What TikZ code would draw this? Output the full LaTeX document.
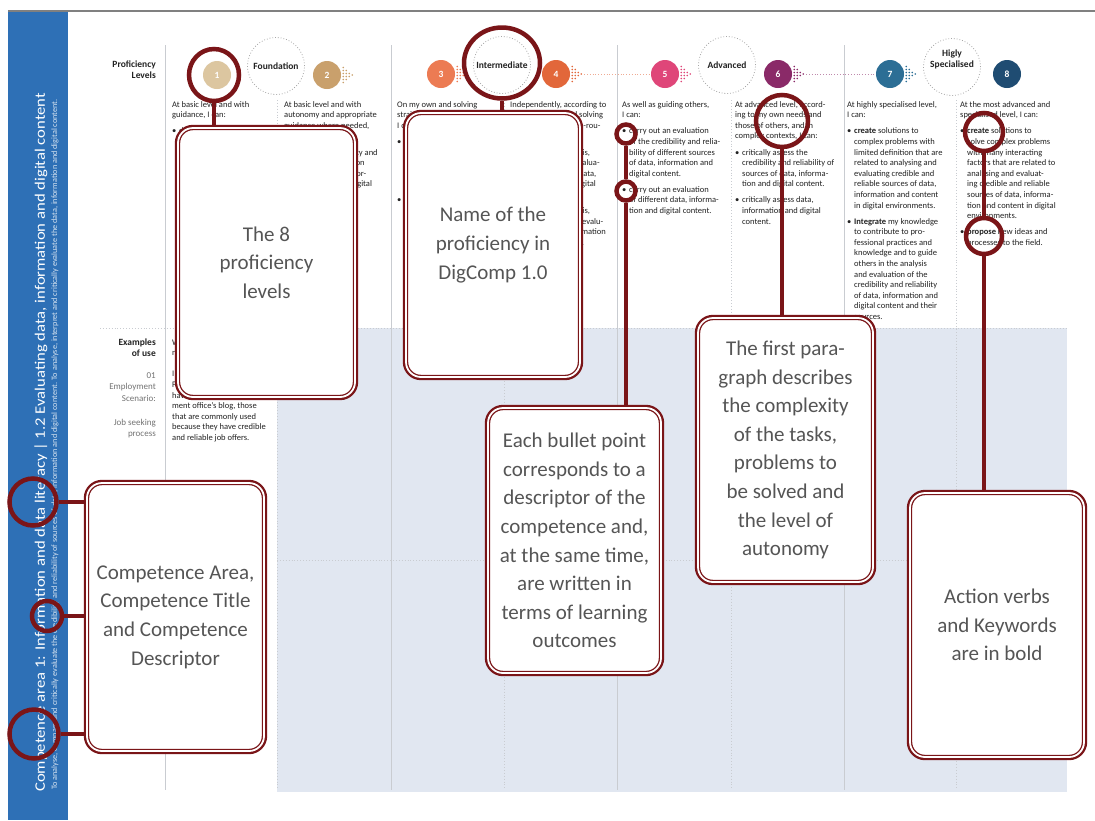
\documentclass[tikz,border=0pt]{standalone}
\usepackage{fontspec}
\setmainfont{Carlito}
\usetikzlibrary{shapes.geometric,calc}
\definecolor{callred}{HTML}{7A1518}
\definecolor{bandblue}{HTML}{2E70B6}
\definecolor{shadeblue}{HTML}{E1E7F1}
\definecolor{rulegray}{HTML}{C9CCD1}
\definecolor{inkdark}{HTML}{222222}
\definecolor{boxgray}{HTML}{555555}
\definecolor{lvA}{HTML}{DCC6A0}
\definecolor{lvB}{HTML}{C9A06C}
\definecolor{lvC}{HTML}{EC7B53}
\definecolor{lvD}{HTML}{E2673A}
\definecolor{lvE}{HTML}{DF4679}
\definecolor{lvF}{HTML}{8A2A68}
\definecolor{lvG}{HTML}{2C6E95}
\definecolor{lvH}{HTML}{1F4C72}
\newcommand{\bul}{\makebox[7pt][l]{\textbullet}}
\newcommand{\ind}{\hspace*{7pt}}
\newcommand{\lvlarrow}[2]{%
  \foreach \dx/\dy in {2/-7.5,2/-4.5,2/-1.5,2/1.5,2/4.5,2/7.5,5/-4.5,5/-1.5,5/1.5,5/4.5,8/-1.5,8/1.5,11/0}
    \fill[#2] ($(#1.east)+(\dx,\dy)$) circle (0.85pt);}
\tikzset{
  coltext/.style={anchor=north west, align=left, inner sep=0pt, text=inkdark, font=\fontsize{8.5}{10.6}\selectfont},
  sidelabel/.style={anchor=north east, align=right, inner sep=0pt, text=inkdark, font=\bfseries\fontsize{9.5}{11}\selectfont},
  sidenote/.style={anchor=north east, align=right, inner sep=0pt, text=black!55, font=\fontsize{9}{11.5}\selectfont},
  lvlnum/.style={circle, minimum size=28pt, inner sep=0pt, text=white, font=\bfseries\fontsize{9.5}{10}\selectfont},
  lvlname/.style={circle, draw=black!35, dotted, line width=0.8pt, minimum size=57pt, inner sep=0pt, align=center, text=inkdark, font=\bfseries\fontsize{9.5}{11}\selectfont},
  lvldots/.style={draw=#1!55, line width=0.8pt, dotted},
  ring/.style={circle, draw=callred, line width=4.5pt, inner sep=0pt},
  oval/.style={ellipse, draw=callred, line width=4.5pt, inner sep=0pt},
  link/.style={draw=callred, line width=4pt},
  callout/.style={rectangle, rounded corners=15pt, preaction={draw=callred, line width=6.4pt}, fill=white, draw=callred, line width=1.3pt, double=white, double distance=1.8pt, inner sep=0pt, align=center, text=boxgray, font=\fontsize{21}{28.6}\selectfont},
  solidrule/.style={draw=rulegray, line width=0.9pt},
  dotrule/.style={draw=rulegray, line width=0.9pt, dotted}
}
\begin{document}
\begin{tikzpicture}[x=1pt, y=-1pt]
\useasboundingbox (0,0) rectangle (1095,820);
\fill[white] (0,0) rectangle (1095,820);
\draw[line width=1.5pt, black!50] (8,11) -- (1095,11);
\fill[bandblue] (8,12) rectangle (68,820);
\node[rotate=90, anchor=west, inner sep=0pt, text=white, font=\fontsize{14.5}{14.5}\selectfont] (ctitle) at (41,792) {\scalebox{1.15}[1]{Competence area 1: Information and data literacy | 1.2 Evaluating data, information and digital content}};
\node[rotate=90, anchor=west, inner sep=0pt, text=white!80!bandblue, font=\fontsize{8.2}{8.2}\selectfont] (cdesc) at (55,790) {To analyse, compare and critically evaluate the credibility and reliability of sources of data, information and digital content. To analyse, interpret and critically evaluate the data, information and digital content.};

\fill[shadeblue] (277,328) rectangle (1067,792);
\foreach \x in {165,391,617,844} \draw[solidrule] (\x,45) -- (\x,790);
\foreach \x in {277,504,731,956} \draw[dotrule] (\x,100) -- (\x,790);
\draw[dotrule] (100,328) -- (1067,328);
\draw[dotrule] (277,560) -- (1067,560);

\node[sidelabel] (plabel) at (156,61) {Proficiency\\Levels};
\node[sidelabel] (elabel) at (156,338.5) {Examples\\of use};
\node[sidenote] (scen) at (156,372) {01\\Employment\\Scenario:};
\node[sidenote] (proc) at (156,419) {Job seeking\\process};

\node[lvlnum, fill=lvA] (n1) at (217,75) {1};
\node[lvlnum, fill=lvB] (n2) at (327,75) {2};
\node[lvlnum, fill=lvC] (n3) at (441,74) {3};
\node[lvlnum, fill=lvD] (n4) at (556,74) {4};
\node[lvlnum, fill=lvE] (n5) at (665,74) {5};
\node[lvlnum, fill=lvF] (n6) at (778,74) {6};
\node[lvlnum, fill=lvG] (n7) at (890,74) {7};
\node[lvlnum, fill=lvH] (n8) at (1007,74) {8};
\lvlarrow{n2}{lvB}
\lvlarrow{n3}{lvC}
\lvlarrow{n4}{lvD}
\lvlarrow{n5}{lvE}
\lvlarrow{n6}{lvF}
\lvlarrow{n7}{lvG}
\draw[lvldots=lvD, shorten <=14pt] (n4.east) -- (n5.west);
\draw[lvldots=lvF, shorten <=14pt] (n6.east) -- (n7.west);
\node[lvlname] (f1) at (276,66) {Foundation};
\node[lvlname] (f2) at (502,65) {Intermediate};
\node[lvlname] (f3) at (727,65) {Advanced};
\node[lvlname] (f4) at (952,67) {};
\node[align=center, inner sep=0pt, text=inkdark, font=\bfseries\fontsize{9.5}{11}\selectfont] (f4t) at (952,59) {Higly\\Specialised};

\node[coltext] (c1) at (172,101) {At basic level and with\\
guidance, I can:\\[5.5pt]
\bul detect the credibility and\\
\ind reliability of common\\
\ind sources of data, infor-\\
\ind mation and their digital\\
\ind content.};
\node[coltext] (c2) at (284,101) {At basic level and with\\
autonomy and appropriate\\
guidance where needed,\\
I can:\\[5.5pt]
\bul detect the credibility and\\
\ind reliability of common\\
\ind sources of data, infor-\\
\ind mation and their digital\\
\ind content.};
\node[coltext] (c3) at (397,101) {On my own and solving\\
straightforward problems,\\
I can:\\[5.5pt]
\bul perform the analysis, com-\\
\ind parison and evaluation of\\
\ind well-defined sources of\\
\ind data, information and\\
\ind digital content.\\[5.5pt]
\bul perform the analysis, in-\\
\ind terpretation and evalua-\\
\ind tion of well-defined data,\\
\ind information and digital\\
\ind content.};
\node[coltext] (c4) at (510,101) {Independently, according to\\
my own needs, and solving\\
well-defined and non-rou-\\
tine problems, I can:\\[5.5pt]
\bul perform the analysis,\\
\ind comparison and evalua-\\
\ind tion of sources of data,\\
\ind information and digital\\
\ind content.\\[5.5pt]
\bul perform the analysis,\\
\ind interpretation and evalu-\\
\ind ation of data, information\\
\ind and digital content.};
\node[coltext] (c5) at (622,101) {As well as guiding others,\\
I can:\\[5.5pt]
\bul carry out an evaluation\\
\ind of the credibility and relia-\\
\ind bility of different sources\\
\ind of data, information and\\
\ind digital content.\\[5.5pt]
\bul carry out an evaluation\\
\ind of different data, informa-\\
\ind tion and digital content.};
\node[coltext] (c6) at (735,101) {At advanced level, accord-\\
ing to my own needs and\\
those of others, and in\\
complex contexts, I can:\\[5.5pt]
\bul critically assess the\\
\ind credibility and reliability of\\
\ind sources of data, informa-\\
\ind tion and digital content.\\[5.5pt]
\bul critically assess data,\\
\ind information and digital\\
\ind content.};
\node[coltext] (c7) at (847,101) {At highly specialised level,\\
I can:\\[5.5pt]
\bul \textbf{create} solutions to\\
\ind complex problems with\\
\ind limited definition that are\\
\ind related to analysing and\\
\ind evaluating credible and\\
\ind reliable sources of data,\\
\ind information and content\\
\ind in digital environments.\\[5.5pt]
\bul \textbf{Integrate} my knowledge\\
\ind to contribute to pro-\\
\ind fessional practices and\\
\ind knowledge and to guide\\
\ind others in the analysis\\
\ind and evaluation of the\\
\ind credibility and reliability\\
\ind of data, information and\\
\ind digital content and their\\
\ind sources.};
\node[coltext] (c8) at (960,101) {At the most advanced and\\
specialised level, I can:\\[5.5pt]
\bul \textbf{create} solutions to\\
\ind solve complex problems\\
\ind with many interacting\\
\ind factors that are related to\\
\ind analysing and evaluat-\\
\ind ing credible and reliable\\
\ind sources of data, informa-\\
\ind tion and content in digital\\
\ind environments.\\[5.5pt]
\bul \textbf{propose} new ideas and\\
\ind processes to the field.};
\node[coltext] (ex1) at (172,339) {With help from a career\\
navigator:\\[10.6pt]
I can detect:\\
From a list of job portals I\\
have seen in my employ-\\
ment office's blog, those\\
that are commonly used\\
because they have credible\\
and reliable job offers.};

\node[oval, minimum width=50pt, minimum height=52pt] (rlev) at (214,75) {};
\node[oval, minimum width=76pt, minimum height=71pt] (rname) at (502,63) {};
\node[ring, minimum size=19pt] (rbul1) at (626,134) {};
\node[ring, minimum size=19pt] (rbul2) at (626,191) {};
\node[ring, minimum size=52pt] (rpara) at (782,121) {};
\node[ring, minimum size=38pt] (rverb1) at (984,132) {};
\node[ring, minimum size=36pt] (rverb2) at (984,236) {};
\node[ring, minimum size=47pt] (rarea) at (33,502) {};
\node[ring, minimum size=30pt] (rtitle) at (47,616) {};
\node[ring, minimum size=49pt] (rdesc) at (34,734) {};

\node[callout, minimum width=177pt, minimum height=269pt] (b1) at (266.5,262.5) {The 8\\proficiency\\levels};
\node[callout, minimum width=174pt, minimum height=264pt] (b2) at (493,245) {Name of the\\proficiency in\\DigComp 1.0};
\node[callout, minimum width=173pt, minimum height=265pt] (b3) at (574.5,540.5) {Each bullet point\\corresponds to a\\descriptor of the\\competence and,\\at the same time,\\are written in\\terms of learning\\outcomes};
\node[callout, minimum width=175pt, minimum height=264pt] (b4) at (785.5,450) {The first para-\\graph describes\\the complexity\\of the tasks,\\problems to\\be solved and\\the level of\\autonomy};
\node[callout, minimum width=174pt, minimum height=264pt] (b5) at (997,625) {Action verbs\\and Keywords\\are in bold};
\node[callout, minimum width=177pt, minimum height=268pt] (b6) at (175.5,617) {Competence Area,\\Competence Title\\and Competence\\Descriptor};

\draw[link] (rlev.south) -- (rlev.south |- b1.north);
\draw[link] (rname.south) -- (rname.south |- b2.north);
\draw[link] (rbul1.south) -- (rbul2.north);
\draw[link] (rbul2.south) -- (rbul2.south |- b3.north);
\draw[link] (rpara.south) -- (rpara.south |- b4.north);
\draw[link] (rverb1.south) -- (rverb2.north);
\draw[link] (rverb2.south) -- (rverb2.south |- b5.north);
\draw[link] (rarea.east) -- (rarea.east -| b6.west);
\draw[link] (rtitle.east) -- (rtitle.east -| b6.west);
\draw[link] (rdesc.east) -- (rdesc.east -| b6.west);
\end{tikzpicture}
\end{document}
